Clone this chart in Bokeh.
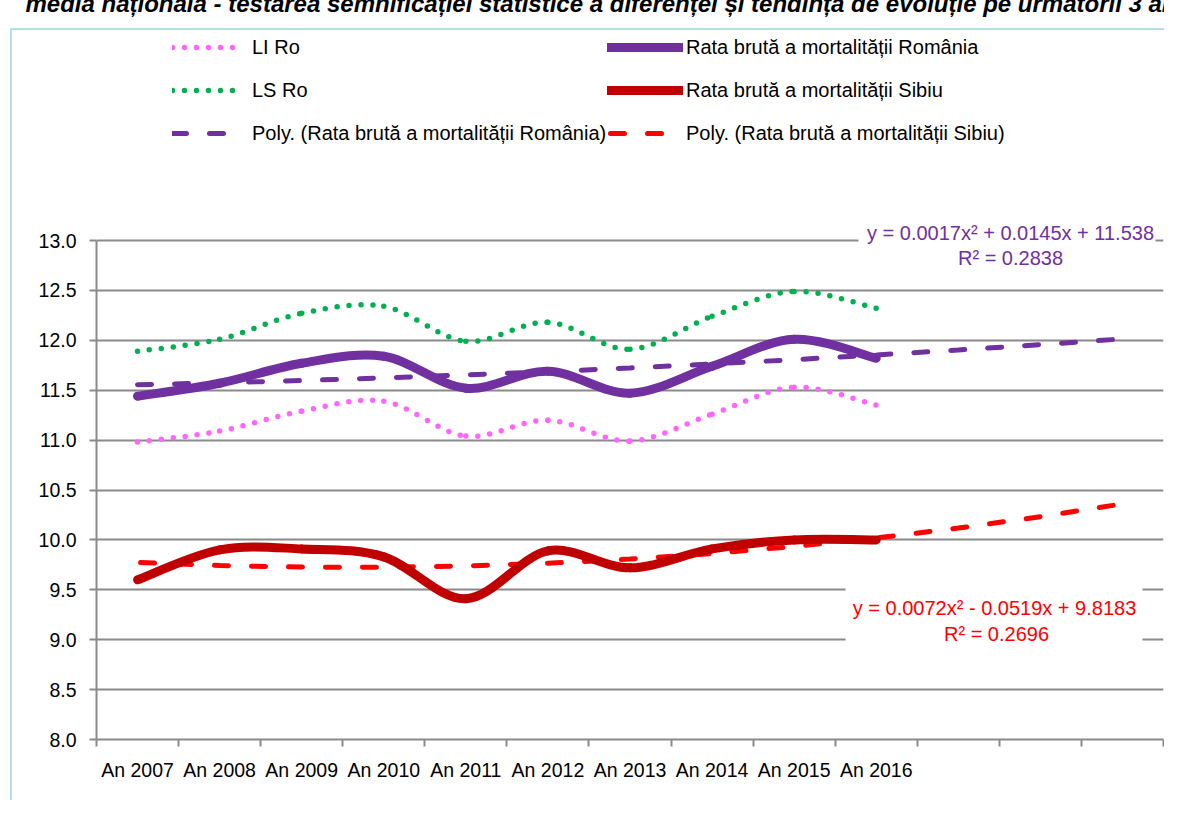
from bokeh.plotting import figure
from bokeh.models import (Range1d, FixedTicker, Legend, LegendItem, Label,
                          BoxAnnotation, PrintfTickFormatter, ColumnDataSource)
from bokeh.embed import file_html
from bokeh.resources import INLINE

# ---------------- data ----------------
categories = ["An 2007", "An 2008", "An 2009", "An 2010", "An 2011",
              "An 2012", "An 2013", "An 2014", "An 2015", "An 2016"]
forecast_slots = ["", "", ""]
romania = [11.44, 11.57, 11.77, 11.84, 11.52, 11.69, 11.47, 11.74, 12.01, 11.82]
sibiu = [9.60, 9.90, 9.91, 9.83, 9.41, 9.89, 9.72, 9.91, 10.00, 10.00]
li_ro = [10.98, 11.09, 11.29, 11.39, 11.04, 11.20, 10.99, 11.26, 11.53, 11.35]
ls_ro = [11.89, 12.01, 12.27, 12.34, 11.99, 12.18, 11.91, 12.24, 12.49, 12.32]
trend_ro = [11.5542, 11.5738, 11.5968, 11.6232, 11.6530, 11.6862, 11.7228,
            11.7628, 11.8062, 11.8530, 11.9032, 11.9568, 12.0138]
trend_sb = [9.7736, 9.7433, 9.7274, 9.7259, 9.7388, 9.7661, 9.8078,
            9.8639, 9.9344, 10.0193, 10.1186, 10.2323, 10.3604]
y_ticks = [8.0, 8.5, 9.0, 9.5, 10.0, 10.5, 11.0, 11.5, 12.0, 12.5, 13.0]
eq_ro = ["y = 0.0017x\u00b2 + 0.0145x + 11.538", "R\u00b2 = 0.2838"]
eq_sb = ["y = 0.0072x\u00b2 - 0.0519x + 9.8183", "R\u00b2 = 0.2696"]
title_text = ("media na\u021bional\u0103 - testarea semnifica\u021biei statistice a "
              "diferen\u021bei \u0219i tendin\u021ba de evolu\u021bie pe urm\u0103torii 3 ani")

all_slots = categories + forecast_slots
n_slots = len(all_slots)

# ---------------- layout helpers (pixel -> data) ----------------
FONT = "Liberation Sans"
SHIFT = 16                      # figure pulled up so the title is cut like the source
PX_L, PX_R, PY_BOT, PY_TOP = 96.0, 1163.0, 739.0, 16.0
XS = (PX_R - PX_L) / n_slots
YS = 99.8


def X(px):
    return (px - PX_L) / XS


def Y(py):
    return 8.0 + (PY_BOT - py) / YS


BORDER = "#b7dee8"
bg = ("linear-gradient({c},{c}) 10px {t}px / 2px 3000px no-repeat, "
      "linear-gradient({c},{c}) 10px {t}px / 3000px 2px no-repeat, #ffffff").format(
          c=BORDER, t=28 + SHIFT)

p = figure(width=1164, height=800 + SHIFT, output_backend="svg", toolbar_location=None,
           x_range=Range1d(0, n_slots), y_range=Range1d(8.0, Y(PY_TOP)),
           min_border_left=int(PX_L), min_border_right=1164 - int(PX_R),
           min_border_top=int(PY_TOP) + SHIFT, min_border_bottom=800 - int(PY_BOT),
           margin=(-SHIFT, 0, 0, 0), styles={"background": bg})
p.outline_line_color = None
p.background_fill_alpha = 0
p.border_fill_alpha = 0

# cut-off title at the very top
p.title.text = title_text
p.title.align = "left"
p.title.offset = -71
p.title.standoff = 0
p.title.vertical_align = "bottom"
p.title.text_font = FONT
p.title.text_font_size = "24px"
p.title.text_font_style = "bold italic"
p.title.text_color = "black"

GRID = "#8a8a8a"

# y axis
p.yaxis.ticker = FixedTicker(ticks=y_ticks)
p.yaxis.formatter = PrintfTickFormatter(format="%.1f")
p.yaxis.bounds = (8.0, 13.0)
p.yaxis.axis_line_color = GRID
p.yaxis.axis_line_width = 2
p.yaxis.major_tick_line_color = GRID
p.yaxis.major_tick_line_width = 2
p.yaxis.major_tick_out = 7
p.yaxis.major_tick_in = 0
p.yaxis.minor_tick_out = 0
p.yaxis.minor_tick_in = 0
p.yaxis.major_label_standoff = 13
p.yaxis.major_label_text_font = FONT
p.yaxis.major_label_text_font_size = "19.5px"
p.yaxis.major_label_text_color = "black"

# x axis: labels at slot centres, tick marks at slot boundaries
centres = [i + 0.5 for i in range(n_slots)]
p.xaxis.ticker = FixedTicker(ticks=centres, minor_ticks=list(range(n_slots + 1)))
p.xaxis.major_label_overrides = {c: lab for c, lab in zip(centres, all_slots)}
p.xaxis.bounds = (0, n_slots)
p.xaxis.axis_line_color = GRID
p.xaxis.axis_line_width = 2
p.xaxis.major_tick_out = 0
p.xaxis.major_tick_in = 0
p.xaxis.minor_tick_out = 7
p.xaxis.minor_tick_in = 0
p.xaxis.minor_tick_line_color = GRID
p.xaxis.minor_tick_line_width = 2
p.xaxis.major_label_standoff = 12
p.xaxis.major_label_text_font = FONT
p.xaxis.major_label_text_font_size = "19.5px"
p.xaxis.major_label_text_color = "black"

p.xgrid.visible = False
p.ygrid.ticker = FixedTicker(ticks=y_ticks)
p.ygrid.grid_line_color = GRID
p.ygrid.grid_line_width = 2

# ---------------- smoothed series (Bezier through data points) ----------------
xs = [i + 0.5 for i in range(len(categories))]


def bezier_source(vals):
    n = len(vals)
    d = dict(x0=[], y0=[], x1=[], y1=[], cx0=[], cy0=[], cx1=[], cy1=[])
    for i in range(n - 1):
        im1 = max(i - 1, 0)
        ip2 = min(i + 2, n - 1)
        d["x0"].append(xs[i]); d["y0"].append(vals[i])
        d["x1"].append(xs[i + 1]); d["y1"].append(vals[i + 1])
        d["cx0"].append(xs[i] + (xs[i + 1] - xs[im1]) / 6.0)
        d["cy0"].append(vals[i] + (vals[i + 1] - vals[im1]) / 6.0)
        d["cx1"].append(xs[i + 1] - (xs[ip2] - xs[i]) / 6.0)
        d["cy1"].append(vals[i + 1] - (vals[ip2] - vals[i]) / 6.0)
    return ColumnDataSource(d)


C_LI = "#ff66ff"
C_LS = "#00b050"
C_RO = "#7030a0"
C_SB = "#c00000"
C_SBT = "#ff0000"

styles = {
    "li": dict(line_color=C_LI, line_width=5.5, line_dash="0 12", line_cap="round"),
    "ls": dict(line_color=C_LS, line_width=5.5, line_dash="0 12", line_cap="round"),
    "ro": dict(line_color=C_RO, line_width=9, line_cap="round"),
    "sb": dict(line_color=C_SB, line_width=9, line_cap="round"),
    "tro": dict(line_color=C_RO, line_width=5, line_dash="14 23", line_cap="round"),
    "tsb": dict(line_color=C_SBT, line_width=5, line_dash="14 23",
                line_dash_offset=34, line_cap="round"),
}

# trend lines
r_tro = p.line(x=centres, y=trend_ro, **styles["tro"])
r_tsb = p.line(x=centres, y=trend_sb, **styles["tsb"])

rend = {}
for key, vals in (("li", li_ro), ("ls", ls_ro), ("ro", romania), ("sb", sibiu)):
    rend[key] = p.bezier(x0="x0", y0="y0", x1="x1", y1="y1", cx0="cx0", cy0="cy0",
                         cx1="cx1", cy1="cy1", source=bezier_source(vals), **styles[key])

legend_common = dict(orientation="vertical", glyph_height=30, label_height=30,
                     spacing=13, padding=0, margin=0, border_line_color=None,
                     background_fill_alpha=0, label_text_font=FONT,
                     label_text_font_size="20px", label_text_color="black")
leg1 = Legend(items=[LegendItem(label="LI Ro", renderers=[rend["li"]]),
                     LegendItem(label="LS Ro", renderers=[rend["ls"]]),
                     LegendItem(label="Poly. (Rata brut\u0103 a mortalit\u0103\u021bii Rom\u00e2nia)",
                                renderers=[r_tro])],
              location=(76, 591), glyph_width=68, label_standoff=12, **legend_common)
leg2 = Legend(items=[LegendItem(label="Rata brut\u0103 a mortalit\u0103\u021bii Rom\u00e2nia",
                                renderers=[rend["ro"]]),
                     LegendItem(label="Rata brut\u0103 a mortalit\u0103\u021bii Sibiu",
                                renderers=[rend["sb"]]),
                     LegendItem(label="Poly. (Rata brut\u0103 a mortalit\u0103\u021bii Sibiu)",
                                renderers=[r_tsb])],
              location=(511, 591), glyph_width=76, label_standoff=3, **legend_common)
p.add_layout(leg1)
p.add_layout(leg2)

# equation boxes
p.add_layout(BoxAnnotation(left=X(858), right=X(1155), top=Y(220), bottom=Y(270),
                           fill_color="white", fill_alpha=1, line_alpha=0))
p.add_layout(BoxAnnotation(left=X(845), right=X(1142), top=Y(585), bottom=Y(655),
                           fill_color="white", fill_alpha=1, line_alpha=0))
for txt, cx, cy, col in ((eq_ro[0], 1010, 232, C_RO), (eq_ro[1], 1010, 257, C_RO),
                         (eq_sb[0], 994, 607, C_SBT), (eq_sb[1], 996, 633, C_SBT)):
    p.add_layout(Label(x=X(cx), y=Y(cy), text=txt, text_align="center",
                       text_baseline="middle", text_color=col, text_font=FONT,
                       text_font_size="20px"))

open("out.html", "w").write(file_html(p, INLINE))
